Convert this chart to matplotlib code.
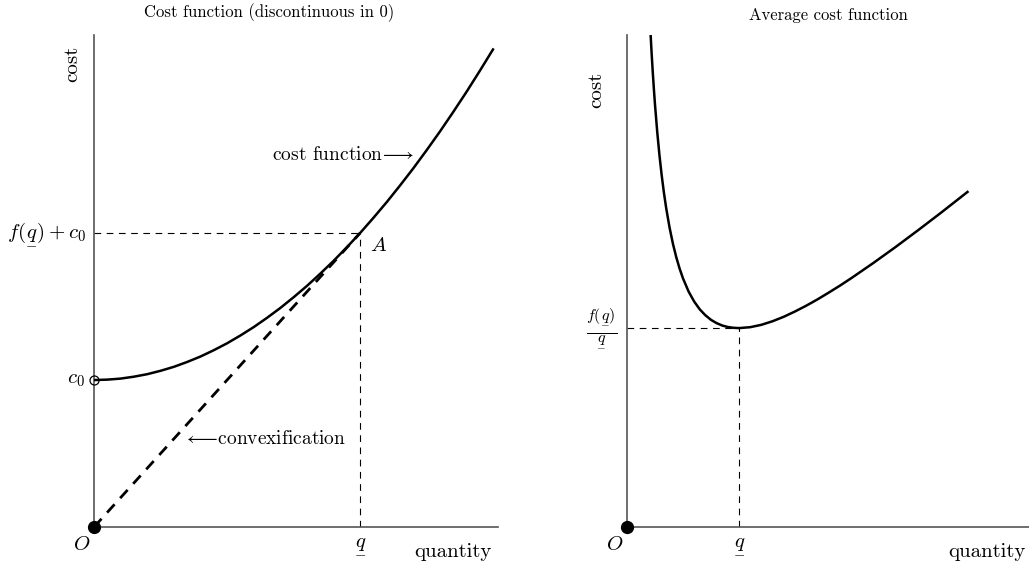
import matplotlib
matplotlib.use('Agg')
from matplotlib import pyplot as plt

plt.rcParams['font.family'] = 'cmr10'
plt.rcParams['mathtext.fontset'] = 'cm'
plt.rcParams['axes.unicode_minus'] = False
plt.rcParams['axes.formatter.use_mathtext'] = True

# cost function c(q) = c0 + f(q) (c0 = 1, q_ = 1)
q_cost = [0.0, 0.05, 0.1, 0.15, 0.2, 0.25, 0.3, 0.35, 0.4, 0.45, 0.5,
          0.55, 0.6, 0.65, 0.7, 0.75, 0.8, 0.85, 0.9, 0.95, 1.0,
          1.05, 1.1, 1.15, 1.2, 1.25, 1.3, 1.35, 1.4, 1.45, 1.5]
cost = [1.000, 1.003, 1.010, 1.023, 1.040, 1.063, 1.090, 1.123, 1.160, 1.203, 1.250,
        1.303, 1.360, 1.423, 1.490, 1.563, 1.640, 1.723, 1.810, 1.903, 2.000,
        2.103, 2.210, 2.323, 2.440, 2.563, 2.690, 2.823, 2.960, 3.103, 3.250]
c0 = 1.0
q_low = 1.0
cost_at_q = 2.0

# average cost function
q_avg = [0.19, 0.2, 0.21, 0.22, 0.23, 0.24, 0.25, 0.27, 0.29, 0.31, 0.33, 0.35,
         0.38, 0.41, 0.44, 0.47, 0.5, 0.55, 0.6, 0.65, 0.7, 0.75, 0.8, 0.85,
         0.9, 0.95, 1.0, 1.1, 1.2, 1.3, 1.4, 1.5, 1.6, 1.7, 1.8, 1.9, 2.0,
         2.2, 2.4, 2.6, 2.8, 3.04]
avg_cost = [5.453, 5.200, 4.972, 4.765, 4.578, 4.407, 4.250, 3.974, 3.738, 3.536,
            3.360, 3.207, 3.012, 2.849, 2.713, 2.598, 2.500, 2.368, 2.267, 2.188,
            2.129, 2.083, 2.050, 2.026, 2.011, 2.003, 2.000, 2.009, 2.033, 2.069,
            2.114, 2.167, 2.225, 2.288, 2.356, 2.426, 2.500, 2.655, 2.817, 2.985,
            3.157, 3.369]
avg_min = 2.0

QU = r'\underset{-}{q}'  # underlined q

fig = plt.figure(figsize=(10.29, 5.64), dpi=100)
ax1 = fig.add_axes([0.0914, 0.0656, 0.3926, 0.872])
ax2 = fig.add_axes([0.6093, 0.0656, 0.3907, 0.872])

for ax in (ax1, ax2):
    for s in ('top', 'right'):
        ax.spines[s].set_visible(False)
    for s in ('left', 'bottom'):
        ax.spines[s].set_color('#555555')
        ax.spines[s].set_linewidth(1.2)
    ax.set_xticks([])
    ax.set_yticks([])
    ax.patch.set_alpha(0)

# left panel
ax1.set_xlim(0, 1.519)
ax1.set_ylim(0, 3.347)
ax1.plot(q_cost, cost, color='black', lw=1.8, zorder=3)
ax1.plot([0, q_low], [0, cost_at_q], color='black', lw=2, ls=(0, (4, 3)), zorder=3)
ax1.plot([0, q_low], [cost_at_q, cost_at_q], color='black', lw=0.8, ls=(0, (6, 5)))
ax1.plot([q_low, q_low], [0, cost_at_q], color='black', lw=0.8, ls=(0, (6, 5)))
ax1.plot([0], [c0], 'o', ms=6.5, mfc='none', mec='black', mew=0.9, clip_on=False, zorder=4)
ax1.plot([0], [0], 'o', ms=8.5, color='black', clip_on=False, zorder=4)

ax1.text(-0.03, cost_at_q, r'$f(' + QU + r')+c_0$', fontsize=15, ha='right', va='center')
ax1.text(-0.035, c0, r'$c_0$', fontsize=15, ha='right', va='center')
ax1.text(-0.045, -0.12, r'$O$', fontsize=15, ha='center', va='center')
ax1.text(q_low, -0.13, '$' + QU + '$', fontsize=15, ha='center', va='center')
ax1.text(1.35, -0.17, 'quantity', fontsize=15, ha='center', va='center')
ax1.text(-0.08, 3.15, 'cost', fontsize=15, ha='center', va='center', rotation=90)
ax1.text(1.07, 1.91, r'$A$', fontsize=15, ha='center', va='center')
ax1.text(0.934, 2.53, r'cost function$\!\longrightarrow$', fontsize=14, ha='center', va='center')
ax1.text(0.64, 0.6, r'$\longleftarrow\!$convexification', fontsize=14, ha='center', va='center')
ax1.text(0.66, 3.5, 'Cost function (discontinuous in 0)', fontsize=12,
         ha='center', va='center', clip_on=False)

# right panel
ax2.set_xlim(0, 3.589)
ax2.set_ylim(0, 4.945)
ax2.plot(q_avg, avg_cost, color='black', lw=1.8, zorder=3)
ax2.plot([0, q_low], [avg_min, avg_min], color='black', lw=0.8, ls=(0, (6, 5)))
ax2.plot([q_low, q_low], [0, avg_min], color='black', lw=0.8, ls=(0, (6, 5)))
ax2.plot([0], [0], 'o', ms=8.5, color='black', clip_on=False, zorder=4)

ax2.text(-0.23, avg_min, r'$\frac{f(' + QU + ')}{' + QU + '}$', fontsize=16.5,
         ha='center', va='center')
ax2.text(-0.11, -0.18, r'$O$', fontsize=15, ha='center', va='center')
ax2.text(q_low, -0.19, '$' + QU + '$', fontsize=15, ha='center', va='center')
ax2.text(3.21, -0.25, 'quantity', fontsize=15, ha='center', va='center')
ax2.text(-0.27, 4.4, 'cost', fontsize=15, ha='center', va='center', rotation=90)
ax2.text(1.8, 5.14, 'Average cost function', fontsize=12,
         ha='center', va='center', clip_on=False)

fig.savefig('out.png', dpi=100)
